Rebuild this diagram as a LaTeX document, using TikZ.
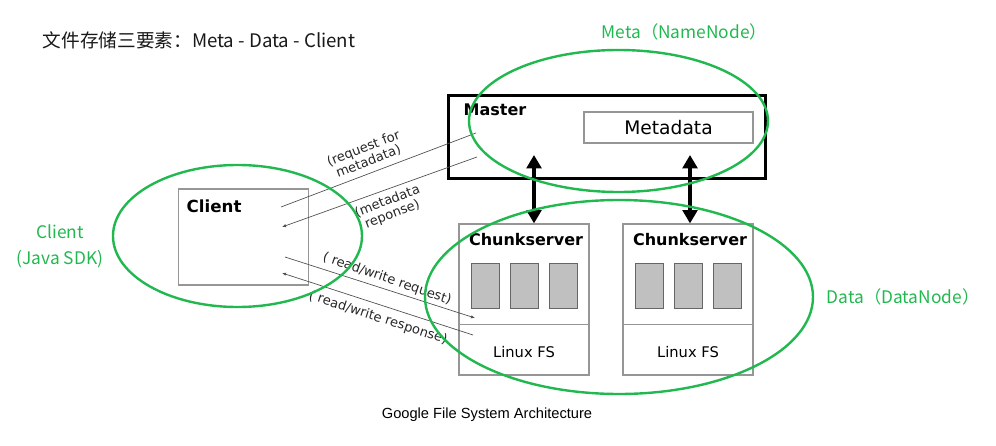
\documentclass[tikz,border=0pt]{standalone}
\usepackage{fontspec}
\setmainfont{DejaVu Sans}
\newfontfamily\cjkfont{Noto Sans CJK SC}
\newfontfamily\capfont{Liberation Sans}
\usetikzlibrary{arrows.meta,shapes.geometric}
\definecolor{ringgreen}{RGB}{34,184,80}
\definecolor{boxgray}{RGB}{150,150,150}
\definecolor{chunkgray}{RGB}{192,192,192}

\begin{document}
\begin{tikzpicture}[x=0.75pt,y=-0.75pt,
    box/.style={draw=boxgray,line width=0.9pt,minimum width=97.5pt,minimum height=113.25pt,inner sep=0pt},
    chunk/.style={draw=black!60,fill=chunkgray,line width=0.6pt,minimum width=21pt,minimum height=33.75pt,inner sep=0pt},
    ring/.style={draw=ringgreen,ellipse,line width=1.8pt,inner sep=0pt},
    title/.style={font=\bfseries\fontsize{12}{14}\selectfont},
    msg/.style={draw=black!70,line width=0.5pt},
    tip/.style={-{Latex[length=3pt,width=2.5pt]}},
    msglbl/.style={font=\fontsize{9.8}{10.5}\selectfont,align=center,text=black!85,inner sep=0.5pt},
    tag/.style={text=ringgreen,font=\cjkfont\fontsize{13}{19.5}\selectfont,align=center},
    fat/.style={line width=3.5pt,{Triangle[width=11pt,length=10pt]}-{Triangle[width=11pt,length=10pt]}}]

  \useasboundingbox (0,0) rectangle (996,446);

  \node[font=\cjkfont\fontsize{14}{16}\selectfont,text=black!90,anchor=west] (header) at (38,40) {文件存储三要素：Meta - Data - Client};

  \node[draw,line width=2.25pt,minimum width=237.75pt,minimum height=62.25pt] (master) at (606.5,136.5) {};
  \node[title,anchor=west] (mastertxt) at (459,110) {Master};
  \node[draw=boxgray,line width=0.9pt,minimum width=126.75pt,minimum height=23.25pt,font=\fontsize{14}{16}\selectfont] (metadata) at (668.5,127.5) {Metadata};

  \node[box,minimum height=72pt] (client) at (243.5,237) {};
  \node[title,font=\bfseries\fontsize{12.5}{14}\selectfont,anchor=west] (clienttxt) at (182,206) {Client};

  \foreach \s/\cx in {1/524,2/688}{
    \node[box] (cs\s) at (\cx,299.5) {};
    \node[title] (cstxt\s) at (\cx+2,240) {Chunkserver};
    \foreach \i in {1,2,3}
      \node[chunk] (cs\s-\i) at (\cx+39*\i-78,285.5) {};
    \draw[draw=boxgray,line width=0.9pt] ([yshift=38.25pt]cs\s.south west) -- ([yshift=38.25pt]cs\s.south east);
    \node[font=\fontsize{11}{13}\selectfont] (fs\s) at (\cx,352) {Linux FS};
  }

  \coordinate (up1) at (534,155);
  \coordinate (up2) at (690,155);
  \draw[fat] (up1) -- (up1 |- cs1.north);
  \draw[fat] (up2) -- (up2 |- cs2.north);

  \coordinate (q1) at (281,207);
  \coordinate (q2) at (476,133);
  \coordinate (r1) at (477,157);
  \coordinate (r2) at (282,227);
  \coordinate (w1) at (285,257);
  \coordinate (w2) at (475,318);
  \coordinate (v1) at (473,335);
  \coordinate (v2) at (282,273);

  \draw[msg] (q1) -- (q2);
  \draw[msg,tip] (r1) -- (r2);
  \draw[msg,tip] (w1) -- (w2);
  \draw[msg,tip] (v1) -- (v2);

  \node[msglbl,rotate=21] (lq) at (366,155) {(request for\\metadata)};
  \node[msglbl,rotate=21] (lr) at (390,208) {(metadata\\reponse)};
  \node[msglbl,rotate=-19] (lw) at (387,279) {( read/write request)};
  \node[msglbl,rotate=-18] (lv) at (378,318) {( read/write response)};

  \node[ring,minimum width=224.25pt,minimum height=106.5pt] (metaring) at (618.5,121) {};
  \node[ring,minimum width=186.75pt,minimum height=106.5pt] (clientring) at (237.5,236) {};
  \node[ring,minimum width=291pt,minimum height=145.5pt] (dataring) at (619,297) {};

  \node[tag,anchor=west] (metatag) at (597,32) {Meta（NameNode）};
  \node[tag,anchor=west] (datatag) at (822,297) {Data（DataNode）};
  \node[tag] (clienttag) at (60,246) {Client\\(Java SDK)};

  \node[font=\capfont\fontsize{11}{13}\selectfont] (caption) at (487,415) {Google File System Architecture};
\end{tikzpicture}
\end{document}
